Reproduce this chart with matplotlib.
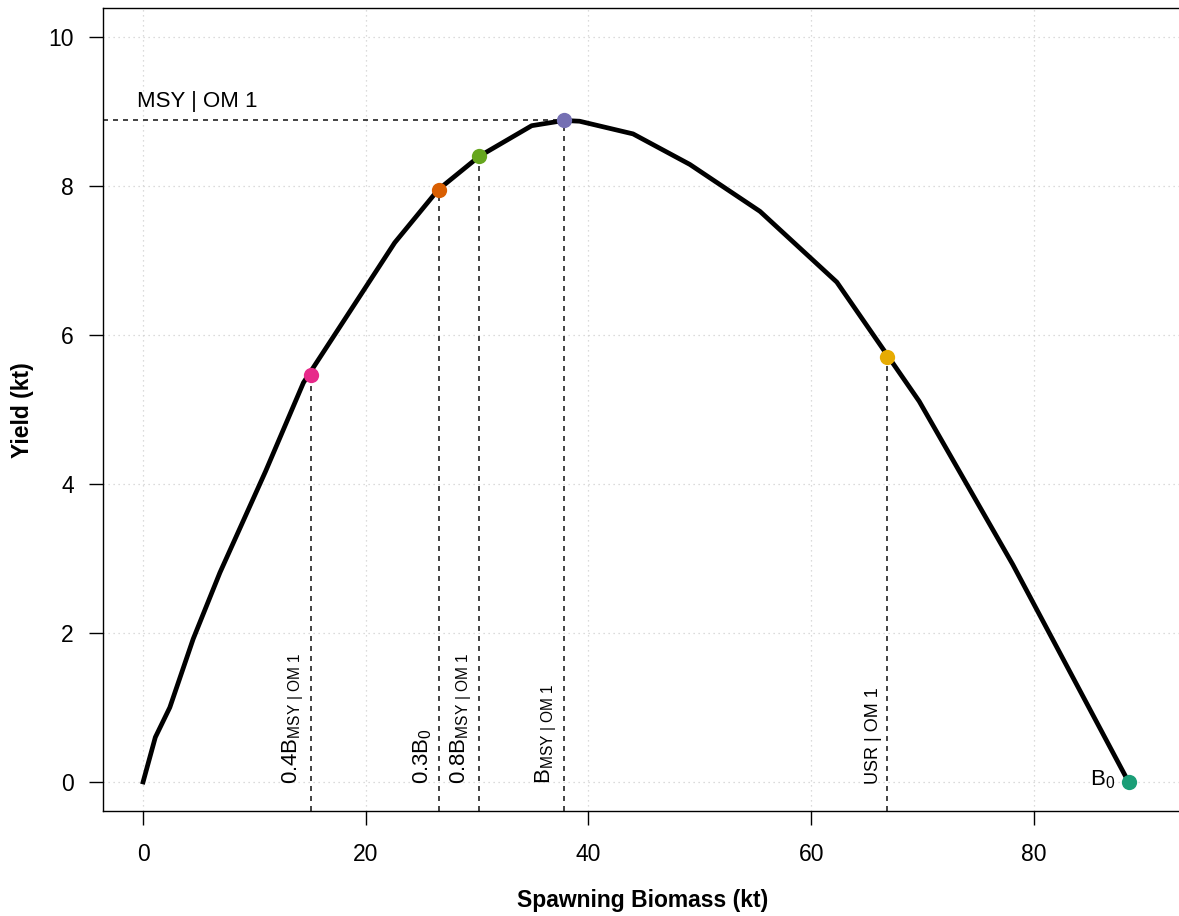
import matplotlib
matplotlib.use("Agg")
import matplotlib.pyplot as plt

plt.rcParams["font.family"] = ["Liberation Sans", "DejaVu Sans"]
plt.rcParams["mathtext.fontset"] = "custom"
plt.rcParams["mathtext.rm"] = "Liberation Sans"
plt.rcParams["mathtext.it"] = "Liberation Sans:italic"
plt.rcParams["mathtext.bf"] = "Liberation Sans:bold"

# yield curve (spawning biomass vs yield, kt)
curve_b = [0, 1.1, 2.4, 4.5, 6.9, 11.0, 14.4, 22.6, 26.5, 30.2, 34.9, 37.8,
           39.2, 44.0, 49.1, 55.4, 62.3, 69.7, 78.1, 88.5]
curve_y = [0, 0.6, 1.0, 1.92, 2.81, 4.17, 5.36, 7.24, 7.95, 8.40, 8.81, 8.88,
           8.87, 8.70, 8.29, 7.66, 6.71, 5.11, 2.92, 0.0]

# reference points
ref_names = ["0.4Bmsy", "0.3B0", "0.8Bmsy", "Bmsy", "USR", "B0"]
ref_b = [15.08, 26.54, 30.2, 37.8, 66.85, 88.5]
ref_y = [5.46, 7.95, 8.40, 8.88, 5.70, 0.0]
ref_cols = ["#E7298A", "#D95F02", "#66A61E", "#7570B3", "#E6AB02", "#1B9E77"]
ref_labels = [r"$\mathrm{0.4B}_{\mathrm{MSY\ |\ OM\ 1}}$",
              r"$\mathrm{0.3B}_{\mathrm{0}}$",
              r"$\mathrm{0.8B}_{\mathrm{MSY\ |\ OM\ 1}}$",
              r"$\mathrm{B}_{\mathrm{MSY\ |\ OM\ 1}}$",
              "USR | OM 1"]
label_sizes = [16, 16, 16, 16, 13]
msy_label = "MSY | OM 1"

xticks = [0, 20, 40, 60, 80]
yticks = [0, 2, 4, 6, 8, 10]

W, H = 1179, 916
fig = plt.figure(figsize=(W / 100, H / 100), dpi=100)
ax = fig.add_axes([103 / W, 105 / H, (1182 - 103) / W, (811 - 8) / H])
xlim = (-3.6, 93.3)
ylim = (-0.39, 10.39)
ax.set_xlim(*xlim)
ax.set_ylim(*ylim)

# dotted grid
for gx in xticks:
    ax.axvline(gx, color="#D0D0D0", lw=0.9, ls=(0, (1, 3)), zorder=0)
for gy in yticks:
    ax.axhline(gy, color="#D0D0D0", lw=0.9, ls=(0, (1, 3)), zorder=0)

# reference lines
dash = (0, (3, 3))
for i in range(5):
    ax.plot([ref_b[i], ref_b[i]], [ylim[0], ref_y[i]], color="#222222",
            lw=1.2, ls=dash, zorder=1)
ax.plot([xlim[0], ref_b[3]], [ref_y[3], ref_y[3]], color="#222222",
        lw=1.2, ls=dash, zorder=1)

ax.plot(curve_b, curve_y, color="black", lw=3.4, zorder=2,
        solid_joinstyle="round")

for b, y, c in zip(ref_b, ref_y, ref_cols):
    ax.plot(b, y, "o", color=c, ms=11, mec="none", zorder=3)

# vertical labels
for i in range(5):
    ax.annotate(ref_labels[i], (ref_b[i], 0), xytext=(-5, -2),
                textcoords="offset pixels", rotation=90, ha="right",
                va="bottom", fontsize=label_sizes[i])

ax.annotate(msy_label, (xlim[0], ref_y[3]), xytext=(34, 13),
            textcoords="offset pixels", ha="left", va="baseline", fontsize=16)
ax.annotate(r"$\mathrm{B}_{\mathrm{0}}$", (ref_b[5], ref_y[5]), xytext=(-13, 2),
            textcoords="offset pixels", ha="right", va="center", fontsize=16)

ax.set_xticks(xticks)
ax.set_yticks(yticks)
ax.tick_params(axis="both", labelsize=16.5, length=10, width=1.0)
ax.tick_params(axis="x", pad=13)
ax.tick_params(axis="y", pad=11)
for s in ax.spines.values():
    s.set_linewidth(1.0)

fig.text(643 / W, 1 - 901 / H, "Spawning Biomass (kt)", ha="center",
         va="center", fontsize=16.5, fontweight="bold")
fig.text(22 / W, 1 - 410 / H, "Yield (kt)", ha="center", va="center",
         rotation=90, fontsize=16.5, fontweight="bold")

fig.savefig("out.png", dpi=100)
